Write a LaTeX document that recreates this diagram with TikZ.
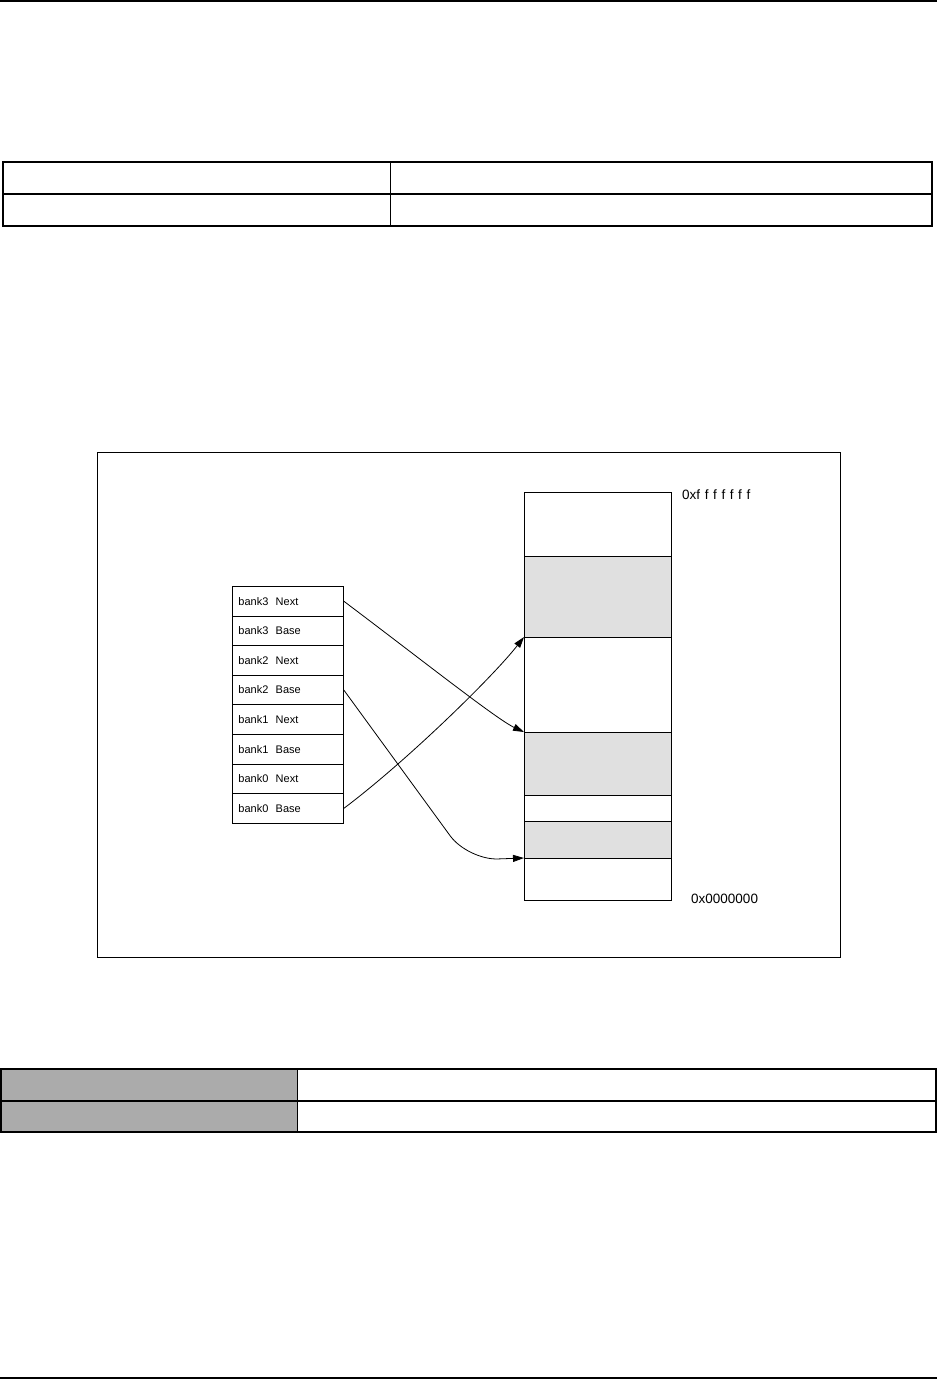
\documentclass[tikz,border=0pt]{standalone}
\usepackage{fontspec}
\setmainfont{Liberation Sans}
\usepackage{tikz}
\usetikzlibrary{arrows.meta,positioning}
\definecolor{shadebg}{RGB}{224,224,224}
\definecolor{headbg}{RGB}{171,171,171}
\newcommand{\fgap}{\kern4.6pt}

\begin{document}
\begin{tikzpicture}[x=1pt, y=-1pt,
  font=\fontsize{11}{13}\selectfont, >={Triangle[length=11pt, width=7pt]},
  cell/.style={draw, anchor=north west, minimum width=111pt, minimum height=29.6pt, text width=99pt, inner xsep=6pt, inner ysep=0pt, align=left, line width=0.8pt},
  seg/.style={draw, anchor=north west, minimum width=147pt, inner sep=0pt, line width=0.8pt},
  shd/.style={seg, fill=shadebg},
  addr/.style={anchor=west, inner sep=0pt, font=\fontsize{13.5}{15}\selectfont}]
  \useasboundingbox (0,0) rectangle (937,1380);
  % page rules
  \draw[line width=2pt] (0,1) -- (937,1);
  \draw[line width=2pt] (0,1378) -- (937,1378);
  % upper table
  \draw[line width=1.5pt] (3,162) rectangle (932,226);
  \draw[line width=1.5pt] (3,194) -- (932,194);
  \draw[line width=0.8pt] (390,162) -- (390,226);
  % lower table
  \fill[headbg] (0,1069) rectangle (297,1132);
  \draw[line width=1.5pt] (1,1069) rectangle (936,1132);
  \draw[line width=1.5pt] (1,1101) -- (936,1101);
  \draw[line width=1pt] (297,1069) -- (297,1132);
  % frame
  \draw[line width=0.8pt] (97,452) rectangle (840,957);
  % bank registers
  \foreach \n/\txt [count=\i from 0] in {b3next/bank3\ \ Next, b3base/bank3\ \ Base,
      b2next/bank2\ \ Next, b2base/bank2\ \ Base, b1next/bank1\ \ Next,
      b1base/bank1\ \ Base, b0next/bank0\ \ Next, b0base/bank0\ \ Base}
    \node[cell] (\n) at (232,586+29.6*\i) {\txt};
  % memory map
  \node[seg, minimum height=64pt] (m7) at (524,492) {};
  \node[shd, minimum height=81pt] (m6) at (524,556) {};
  \node[seg, minimum height=95pt] (m5) at (524,637) {};
  \node[shd, minimum height=63pt] (m4) at (524,732) {};
  \node[seg, minimum height=26pt] (m3) at (524,795) {};
  \node[shd, minimum height=37pt] (m2) at (524,821) {};
  \node[seg, minimum height=42pt] (m1) at (524,858) {};
  \node[addr] (top) at (682,495) {0xf\fgap f\fgap f\fgap f\fgap f\fgap f\fgap f};
  \node[addr] (bot) at (691,899) {0x0000000};
  % y runs down, so the angles below are mirrored
  \draw[->, line width=0.8pt] (b3next.east) .. controls +(37:100) and +(-155:30) .. (m4.north west);
  \draw[->, line width=0.8pt, rounded corners=30pt] (b2base.east) -- ++(124,170) -- (m1.north west);
  \draw[->, line width=0.8pt] (b0base.east) .. controls +(-37:80) and +(128:50) .. (m5.north west);
\end{tikzpicture}
\end{document}
